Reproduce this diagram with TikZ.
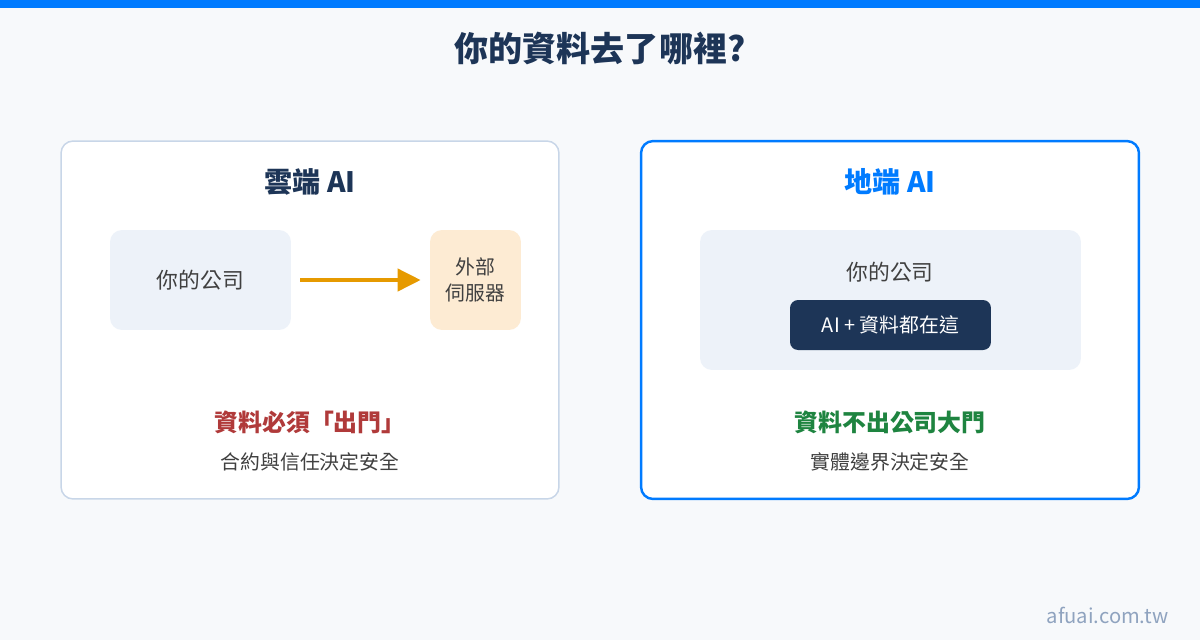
\documentclass[tikz,border=0pt]{standalone}
\usepackage{fontspec}
\setmainfont{Noto Sans CJK TC}
\usetikzlibrary{arrows.meta}

\definecolor{bgcol}{HTML}{F7F9FB}
\definecolor{topblue}{HTML}{007BFF}
\definecolor{navy}{HTML}{1D3557}
\definecolor{panelline}{HTML}{C8D6E8}
\definecolor{boxfill}{HTML}{EDF2F9}
\definecolor{serverfill}{HTML}{FDEBD3}
\definecolor{arrowcol}{HTML}{E69A00}
\definecolor{redtxt}{HTML}{B03A3A}
\definecolor{greentxt}{HTML}{1E8440}
\definecolor{greytxt}{HTML}{404040}
\definecolor{marktxt}{HTML}{8FA3BF}

\tikzset{
  panel/.style={draw, fill=white, rounded corners=0.24cm, minimum width=9.96cm, minimum height=7.16cm},
  softbox/.style={fill=boxfill, rounded corners=0.24cm, align=center},
  bodytxt/.style={text=greytxt, font=\fontsize{11.3}{15}\selectfont},
  firmtxt/.style={text=greytxt, font=\fontsize{12.4}{15}\selectfont},
  headtxt/.style={font=\fontsize{16}{19}\selectfont\bfseries},
  keytxt/.style={font=\fontsize{13.6}{16}\selectfont\bfseries}
}

\begin{document}
\begin{tikzpicture}[x=0.02cm, y=-0.02cm]
% background and top bar
\fill[bgcol] (0,0) rectangle (1200,640);
\fill[topblue] (0,0) rectangle (1200,8);

\node[text=navy, font=\fontsize{19.4}{23}\selectfont\bfseries] (title) at (600,48) {你的資料去了哪裡?};

% cloud side
\node[panel, draw=panelline, line width=0.85pt] (cloud) at (310,320) {};
\node[headtxt, text=navy] (cloudhead) at (310,182) {雲端 AI};
\node[softbox, firmtxt, minimum width=3.62cm, minimum height=2cm] (company) at (200.5,280) {你的公司};
\node[softbox, bodytxt, fill=serverfill, minimum width=1.82cm, minimum height=2cm] (server) at (475.5,280) {外部\\伺服器};
\draw[arrowcol, line width=2.3pt, shorten <=0.18cm, shorten >=0.18cm, -{Triangle[length=0.46cm, width=0.44cm]}] (company) -- (server);
\node[keytxt, text=redtxt] (cloudkey) at (310,422) {資料必須「出門」};
\node[bodytxt] (cloudnote) at (310,462) {合約與信任決定安全};

% local side
\node[panel, draw=topblue, line width=1.4pt] (local) at (890,320) {};
\node[headtxt, text=topblue] (localhead) at (890,182) {地端 AI};
\node[softbox, minimum width=7.62cm, minimum height=2.8cm] (premise) at (890.5,300) {};
\node[firmtxt] (premisetxt) at (890,272) {你的公司};
\node[fill=navy, text=white, rounded corners=0.16cm, minimum width=4.02cm, minimum height=1cm, font=\fontsize{11.3}{13}\selectfont] (aidata) at (890.5,325) {AI + 資料都在這};
\node[keytxt, text=greentxt] (localkey) at (890,422) {資料不出公司大門};
\node[bodytxt] (localnote) at (890,462) {實體邊界決定安全};

\node[text=marktxt, font=\fontsize{11.5}{13}\selectfont] (mark) at (1107.5,615) {afuai.com.tw};
\end{tikzpicture}
\end{document}
